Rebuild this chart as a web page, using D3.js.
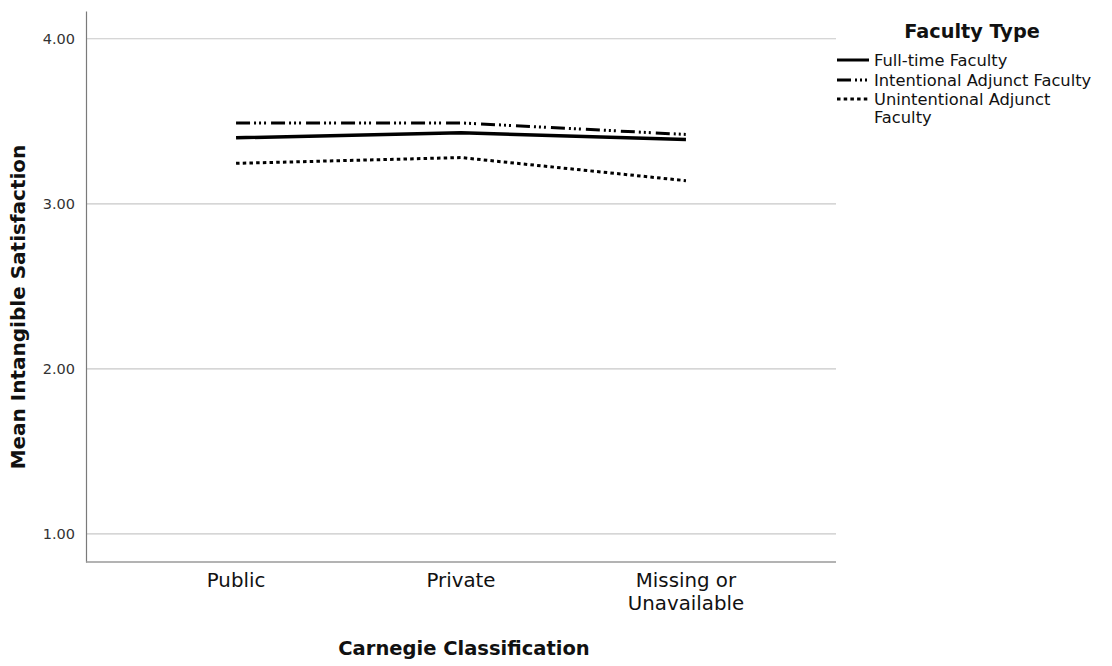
<!DOCTYPE html>
<html>
<head>
<meta charset="utf-8">
<script src="https://cdn.jsdelivr.net/npm/d3@7"></script>
<style>
  body { margin: 0; background: #fff; }
  text { font-family: "DejaVu Sans", sans-serif; }
</style>
</head>
<body>
<svg id="chart" width="1112" height="666"></svg>
<script>
const categories = ["Public", "Private", "Missing or\nUnavailable"];
const seriesNames = ["Full-time Faculty", "Intentional Adjunct Faculty", "Unintentional Adjunct\nFaculty"];
const fullTime = [3.40, 3.43, 3.39];
const intentional = [3.49, 3.49, 3.42];
const unintentional = [3.245, 3.28, 3.14];
const yTicks = [1, 2, 3, 4];

const dashes = [null, "14,4,2,3,2,3,2,5", "3.5,3.2"];
const series = [fullTime, intentional, unintentional];

const svg = d3.select("#chart");
const plotLeft = 86, plotRight = 836, plotTop = 11, plotBottom = 562;

const x = d3.scalePoint().domain(categories).range([plotLeft, plotRight]).padding(0.667);
const y = d3.scaleLinear().domain([0.83, 4.168]).range([plotBottom, plotTop]);

// gridlines
svg.append("g")
  .selectAll("line")
  .data(yTicks)
  .enter()
  .append("line")
  .attr("x1", plotLeft)
  .attr("x2", plotRight)
  .attr("y1", (d) => y(d))
  .attr("y2", (d) => y(d))
  .attr("stroke", "#c8c8c8")
  .attr("stroke-width", 1.2);

// y axis
const yAxis = svg.append("g")
  .attr("transform", `translate(${plotLeft},0)`)
  .call(d3.axisLeft(y).tickValues(yTicks).tickFormat(d3.format(".2f")).tickSize(0).tickPadding(11));
yAxis.select(".domain").attr("stroke", "#7a7a7a").attr("stroke-width", 1.2);
yAxis.selectAll("text").attr("fill", "#333").style("font-size", "14.5px").style("font-family", "DejaVu Sans, sans-serif");

// x axis
const xAxis = svg.append("g")
  .attr("transform", `translate(0,${plotBottom})`)
  .call(d3.axisBottom(x).tickSize(0).tickFormat(""));
xAxis.select(".domain").attr("stroke", "#9a9a9a").attr("stroke-width", 1.4).attr("d", `M${plotLeft},0H${plotRight}`);

// category labels, one text per line
svg.append("g")
  .selectAll("text")
  .data(categories.flatMap((c) => c.split("\n").map((part, j) => ({ c, part, j }))))
  .enter()
  .append("text")
  .attr("x", (d) => x(d.c))
  .attr("y", (d) => 587 + d.j * 23)
  .attr("text-anchor", "middle")
  .attr("fill", "#111")
  .style("font-size", "19.8px")
  .text((d) => d.part);

// axis titles
svg.append("text")
  .attr("x", 464)
  .attr("y", 655)
  .attr("text-anchor", "middle")
  .style("font-size", "19.5px")
  .style("font-weight", "bold")
  .attr("fill", "#111")
  .text("Carnegie Classification");

svg.append("text")
  .attr("transform", "translate(25,307) rotate(-90)")
  .attr("text-anchor", "middle")
  .style("font-size", "20px")
  .style("font-weight", "bold")
  .attr("fill", "#111")
  .text("Mean Intangible Satisfaction");

// lines
const line = d3.line()
  .x((d, i) => x(categories[i]))
  .y((d) => y(d));

series.forEach((s, i) => {
  svg.append("path")
    .datum(s)
    .attr("d", line)
    .attr("fill", "none")
    .attr("stroke", "#000")
    .attr("stroke-width", i === 0 ? 3.5 : 3)
    .attr("stroke-dasharray", dashes[i]);
});

// legend
const legend = svg.append("g");
legend.append("text")
  .attr("x", 972)
  .attr("y", 38)
  .attr("text-anchor", "middle")
  .style("font-size", "19.3px")
  .style("font-weight", "bold")
  .attr("fill", "#111")
  .text("Faculty Type");

const rowY = [60, 80, 99];
seriesNames.forEach((name, i) => {
  legend.append("line")
    .attr("x1", 837)
    .attr("x2", 869)
    .attr("y1", rowY[i])
    .attr("y2", rowY[i])
    .attr("stroke", "#000")
    .attr("stroke-width", 3)
    .attr("stroke-dasharray", dashes[i]);
  name.split("\n").forEach((part, j) => {
    legend.append("text")
      .attr("x", 874)
      .attr("y", rowY[i] + 6 + j * 18)
      .style("font-size", "16.3px")
      .attr("fill", "#111")
      .text(part);
  });
});
</script>
</body>
</html>
